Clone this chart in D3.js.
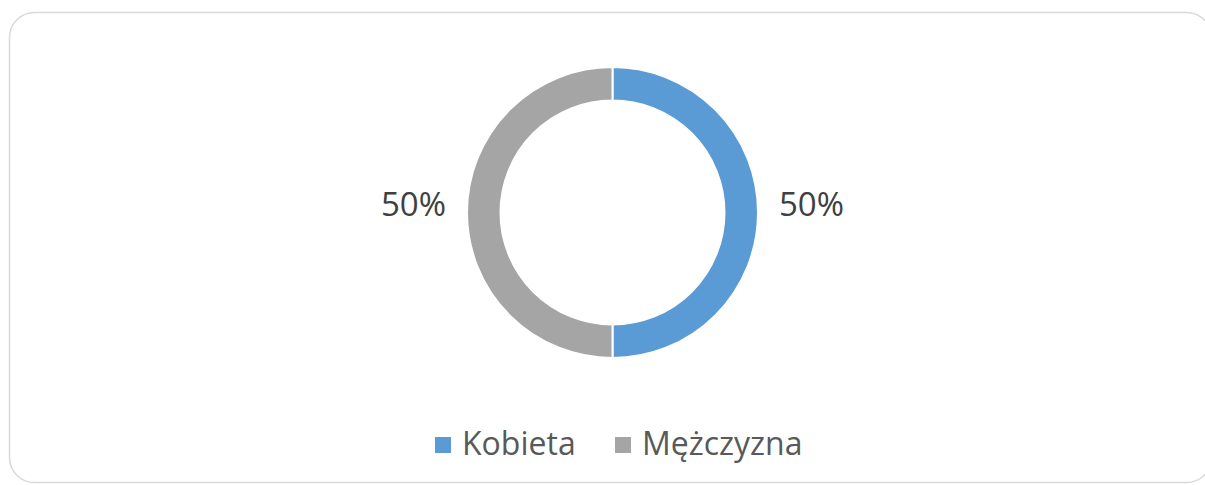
<!DOCTYPE html>
<html><head><meta charset="utf-8">
<script src="https://cdn.jsdelivr.net/npm/d3@7"></script>
<style>body{margin:0;background:#fff}svg{display:block}</style>
</head><body>
<svg id="c" width="1205" height="485"></svg>
<script>
const categories = ["Kobieta", "Mężczyzna"];
const values = [50, 50];
const colors = ["#5B9BD5", "#A5A5A5"];
const labels = ["50%", "50%"];

const svg = d3.select("#c");
svg.append("rect").attr("x",9.5).attr("y",12.5).attr("width",1202).attr("height",470)
  .attr("rx",25).attr("fill","#fff").attr("stroke","#d9d9d9").attr("stroke-width",1.5);

const cx = 612.5, cy = 212.5, rOut = 145.5, rIn = 112;
const pie = d3.pie().sort(null).value(d=>d)(values);
const arc = d3.arc().innerRadius(rIn).outerRadius(rOut);
const g = svg.append("g").attr("transform",`translate(${cx},${cy})`);
g.selectAll("path").data(pie).join("path").attr("d",arc)
  .attr("fill",(d,i)=>colors[i]).attr("stroke","#fff").attr("stroke-width",2);

const font = "'Open Sans', 'Noto Sans', sans-serif";
const labGap = 21;
g.selectAll("text.lab").data(pie).join("text").attr("class","lab")
  .attr("x",d=>{const a=(d.startAngle+d.endAngle)/2; return Math.sin(a)>0 ? rOut+labGap : -(rOut+labGap);})
  .attr("y",3)
  .attr("text-anchor",d=>{const a=(d.startAngle+d.endAngle)/2; return Math.sin(a)>0 ? "start" : "end";})
  .attr("font-family",font).attr("font-size",33).attr("fill","#404040")
  .text((d,i)=>labels[i]);

const legX = [435, 615];
const lg = svg.append("g");
categories.forEach((c,i)=>{
  lg.append("rect").attr("x",legX[i]).attr("y",437).attr("width",16).attr("height",16).attr("fill",colors[i]);
  lg.append("text").attr("x",legX[i]+27).attr("y",455).attr("font-family",font)
    .attr("font-size",32).attr("fill","#595959").text(c);
});
</script>
</body></html>
